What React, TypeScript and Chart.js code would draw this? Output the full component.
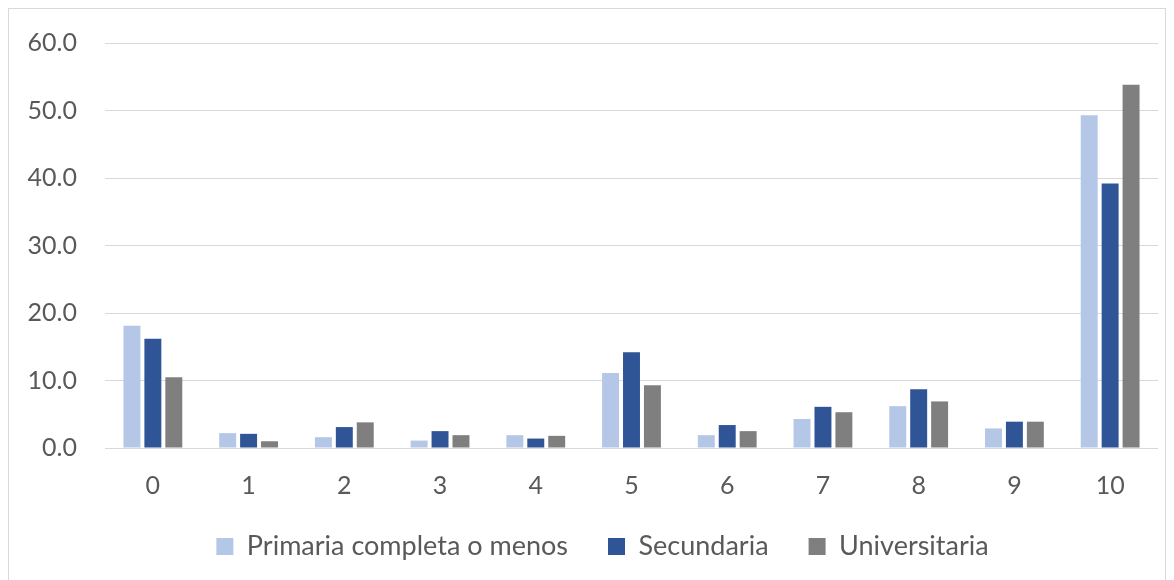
import React, { useEffect, useRef } from "react";
import { Chart, registerables } from "chart.js";

Chart.register(...registerables);

const categories = ["0", "1", "2", "3", "4", "5", "6", "7", "8", "9", "10"];
const primaria = [18.1, 2.2, 1.6, 1.1, 1.9, 11.1, 1.9, 4.3, 6.2, 2.9, 49.3];
const secundaria = [16.2, 2.1, 3.1, 2.5, 1.4, 14.2, 3.4, 6.1, 8.7, 3.9, 39.2];
const universitaria = [10.5, 1.0, 3.8, 1.9, 1.8, 9.3, 2.5, 5.3, 6.9, 3.9, 53.8];
const seriesNames = ["Primaria completa o menos", "Secundaria", "Universitaria"];
const seriesColors = ["#B4C7E7", "#2F5597", "#7F7F7F"];

const FONT = "Lato, 'Noto Sans', sans-serif";

const legendShift = {
  id: "legendShift",
  afterLayout(chart: any) {
    const l = chart.legend;
    if (!l) return;
    l.left += 19;
    l.right += 19;
    l.top -= 5;
    l.bottom -= 5;
  },
};

export default function App() {
  const ref = useRef<HTMLCanvasElement | null>(null);
  useEffect(() => {
    if (!ref.current) return;
    const data = [primaria, secundaria, universitaria];
    const chart = new Chart(ref.current, {
      type: "bar",
      data: {
        labels: categories,
        datasets: seriesNames.map((name, i) => ({
          label: name,
          data: data[i],
          backgroundColor: seriesColors[i],
          borderWidth: 0,
          barPercentage: 0.81,
          categoryPercentage: 0.656,
        })),
      },
      plugins: [legendShift],
      options: {
        animation: false,
        responsive: false,
        maintainAspectRatio: false,
        layout: { padding: { top: 19, right: 7, left: 0, bottom: 0 } },
        plugins: {
          tooltip: { enabled: false },
          legend: {
            position: "bottom",
            labels: {
              color: "#595959",
              font: { family: FONT, size: 27 },
              boxWidth: 17,
              boxHeight: 17,
              padding: 40,
            },
          },
        },
        scales: {
          x: {
            grid: { display: false, drawTicks: false },
            border: { display: false },
            ticks: { color: "#595959", font: { family: FONT, size: 25 }, padding: 23 },
            afterFit: (s: any) => {
              s.height = 50;
            },
          },
          y: {
            min: 0,
            max: 60,
            grid: { color: "#d9d9d9", lineWidth: 1, drawTicks: false },
            border: { display: false },
            ticks: {
              stepSize: 10,
              color: "#595959",
              font: { family: FONT, size: 25 },
              padding: 28,
              callback: (v: any) => Number(v).toFixed(1),
            },
            afterFit: (s: any) => {
              s.width = 96;
            },
          },
        },
      } as any,
    });
    return () => chart.destroy();
  }, []);
  return (
    <div
      style={{
        width: 1158,
        height: 600,
        border: "1px solid #d9d9d9",
        boxSizing: "border-box",
        background: "#fff",
      }}
    >
      <canvas
        ref={ref}
        width={1156}
        height={575}
        style={{ display: "block", position: "relative", top: -9 }}
      />
    </div>
  );
}
